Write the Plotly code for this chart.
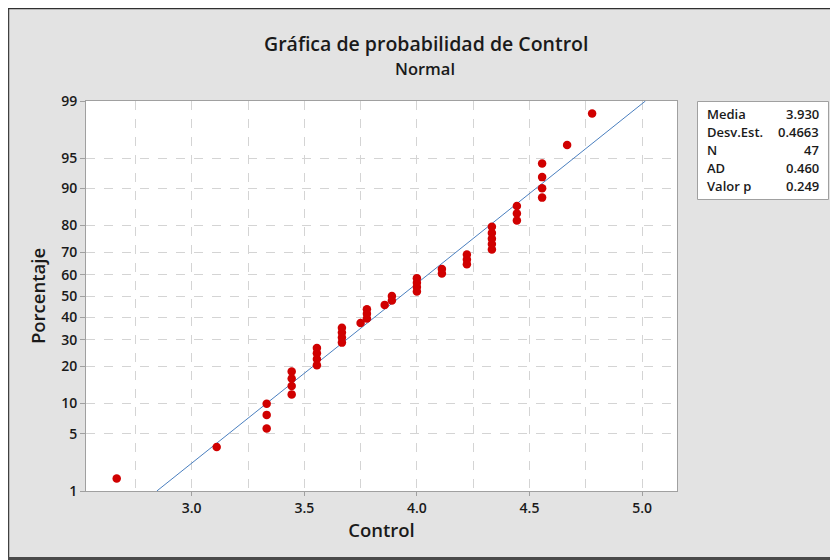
import plotly.graph_objects as go
from statistics import NormalDist

# ---- data ----
control_values = [
    2.667, 3.111,
    3.333, 3.333, 3.333,
    3.444, 3.444, 3.444, 3.444,
    3.556, 3.556, 3.556, 3.556,
    3.667, 3.667, 3.667, 3.667,
    3.750,
    3.778, 3.778, 3.778,
    3.857,
    3.889, 3.889,
    4.000, 4.000, 4.000, 4.000,
    4.111, 4.111,
    4.222, 4.222, 4.222,
    4.333, 4.333, 4.333, 4.333, 4.333,
    4.444, 4.444, 4.444,
    4.556, 4.556, 4.556, 4.556,
    4.667, 4.778,
]
mean_val = 3.930
sd_val = 0.4663
stat_labels = ["Media", "Desv.Est.", "N", "AD", "Valor p"]
stat_values = ["3.930", "0.4663", "47", "0.460", "0.249"]
pct_ticks = [1, 5, 10, 20, 30, 40, 50, 60, 70, 80, 90, 95, 99]
x_ticks = [3.0, 3.5, 4.0, 4.5, 5.0]

nd = NormalDist()
n = len(control_values)
xs = sorted(control_values)
zs = [nd.inv_cdf((i + 1 - 0.3) / (n + 0.4)) for i in range(n)]

fit_dist = NormalDist(mean_val, sd_val)
line_x = [fit_dist.inv_cdf(0.01), fit_dist.inv_cdf(0.99)]
line_z = [nd.inv_cdf(0.01), nd.inv_cdf(0.99)]

# page body has an 8px margin: build the figure in screen coords minus that
OFF = 8
SW, SH = 838, 560
W, H = SW - OFF, SH - OFF
# plot area in screen pixels
SL, SR, ST, SB = 86, 677, 101, 491
L, R, T, B = SL - OFF, SR - OFF, ST - OFF, SB - OFF

FONT = "Open Sans"
TXT = "#1a1a1a"
BG = "#e3e3e3"

fig = go.Figure()
fig.add_trace(go.Scatter(x=line_x, y=line_z, mode="lines",
                         line=dict(color="#4a7fbf", width=1), hoverinfo="skip"))
fig.add_trace(go.Scatter(x=xs, y=zs, mode="markers",
                         marker=dict(color="#d00000", size=8.5), hoverinfo="skip"))

def px_x(p):  # screen x -> paper fraction
    return (p - OFF - L) / (R - L)

def px_y(p):  # screen y -> paper fraction
    return (B - (p - OFF)) / (B - T)

shapes = [
    dict(type="line", xref="paper", yref="paper", x0=px_x(8.5), x1=px_x(8.5), y0=px_y(8), y1=px_y(558),
         line=dict(color="#404040", width=1.5)),
    dict(type="line", xref="paper", yref="paper", x0=px_x(8), x1=px_x(SW), y0=px_y(8.5), y1=px_y(8.5),
         line=dict(color="#303030", width=1.5)),
    dict(type="rect", xref="paper", yref="paper", x0=px_x(8), x1=px_x(SW), y0=px_y(557), y1=px_y(SH),
         fillcolor="#4a4a4a", line=dict(width=0)),
    # stats box
    dict(type="rect", xref="paper", yref="paper", x0=px_x(697.5), x1=px_x(828.5), y0=px_y(101.5), y1=px_y(199.5),
         fillcolor="white", line=dict(color="#a0a0a0", width=1)),
]

annotations = [
    dict(text="Gráfica de probabilidad de Control", x=px_x(426), y=px_y(43), xref="paper", yref="paper",
         showarrow=False, xanchor="center", yanchor="middle",
         font=dict(family=FONT, size=19.5, color=TXT, weight=600)),
    dict(text="Normal", x=px_x(425), y=px_y(68), xref="paper", yref="paper",
         showarrow=False, xanchor="center", yanchor="middle",
         font=dict(family=FONT, size=16.5, color=TXT, weight=600)),
]
row_y = [114, 132, 150, 168, 186]
for lab, val, ry in zip(stat_labels, stat_values, row_y):
    annotations.append(dict(text=lab, x=px_x(705), y=px_y(ry), xref="paper", yref="paper",
                            showarrow=False, xanchor="left", yanchor="middle",
                            font=dict(family=FONT, size=13, color=TXT, weight=600)))
    annotations.append(dict(text=val, x=px_x(821), y=px_y(ry), xref="paper", yref="paper",
                            showarrow=False, xanchor="right", yanchor="middle",
                            font=dict(family=FONT, size=13, color=TXT, weight=600)))

fig.update_layout(
    width=W, height=H,
    margin=dict(l=L, r=W - R, t=T, b=H - B, pad=0),
    paper_bgcolor=BG, plot_bgcolor="white",
    showlegend=False,
    shapes=shapes, annotations=annotations,
    font=dict(family=FONT, color=TXT, size=13),
)
fig.update_xaxes(
    range=[3.0 - (191.7 - SL) / 225.2, 3.0 + (SR - 191.7) / 225.2],
    tickvals=x_ticks, ticktext=[f"{v:.1f}" for v in x_ticks],
    ticks="outside", ticklen=4, tickcolor="#a0a0a0",
    showgrid=True, gridcolor="#d4d4d4", griddash="dash", gridwidth=1,
    minor=dict(tickvals=[2.75, 3.25, 3.75, 4.25, 4.75], showgrid=True,
               gridcolor="#d4d4d4", griddash="dash", gridwidth=1),
    showline=True, linecolor="#a0a0a0", linewidth=1, mirror=True,
    zeroline=False,
    tickfont=dict(family=FONT, size=14, color=TXT, weight=600),
    title=dict(text="Control", standoff=6,
               font=dict(family=FONT, size=18.5, color=TXT, weight=600)),
)
fig.update_yaxes(
    range=[nd.inv_cdf(0.01), nd.inv_cdf(0.99)],
    tickvals=[nd.inv_cdf(p / 100) for p in pct_ticks],
    ticktext=[str(p) for p in pct_ticks],
    ticks="outside", ticklen=5, tickcolor="#a0a0a0",
    showgrid=True, gridcolor="#d4d4d4", griddash="dash", gridwidth=1,
    showline=True, linecolor="#a0a0a0", linewidth=1, mirror=True,
    zeroline=False,
    tickfont=dict(family=FONT, size=14, color=TXT, weight=600),
    title=dict(text="Porcentaje", standoff=10,
               font=dict(family=FONT, size=18.5, color=TXT, weight=600)),
)

fig.write_html("out.html")
